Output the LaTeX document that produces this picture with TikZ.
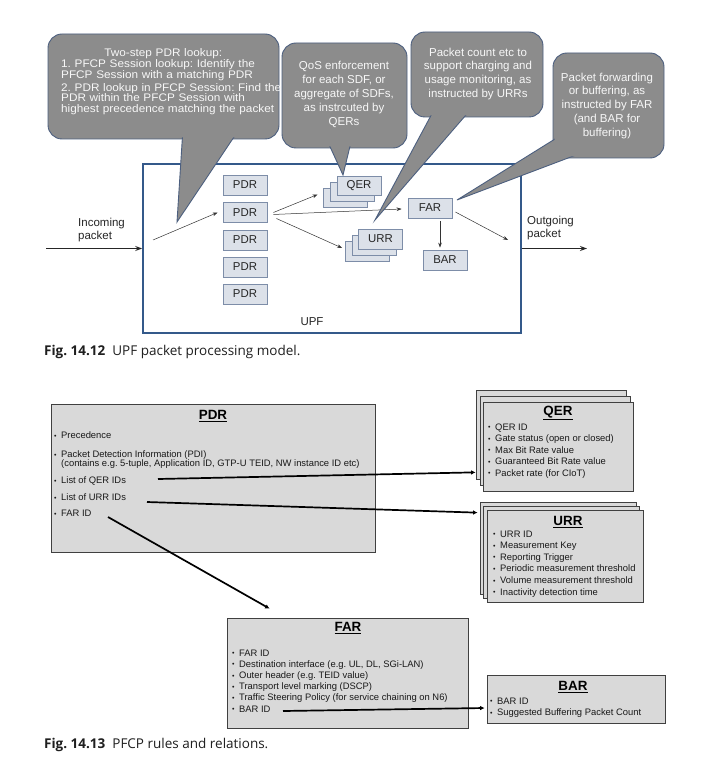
\documentclass[tikz,border=0pt]{standalone}
\usepackage{fontspec}
\setmainfont{Liberation Sans}
\newfontfamily\capfont{Open Sans}
\newfontfamily\callfont[FakeStretch=1.07]{Liberation Sans}
\usetikzlibrary{arrows.meta,calc}
\definecolor{cfill}{HTML}{8C8C8C}
\definecolor{cborder}{HTML}{4C5F7F}
\definecolor{ctext}{HTML}{F7F7F7}
\definecolor{upfcol}{HTML}{34598A}
\definecolor{sfill}{HTML}{DCE1E9}
\definecolor{sborder}{HTML}{7D8DA8}
\definecolor{rfill}{HTML}{D9D9D9}
\definecolor{rborder}{HTML}{404040}
\newcommand\bul{\makebox[7pt][l]{\raisebox{0.4pt}{\fontsize{7}{7}\selectfont •}}}
\newcommand\ind{\hspace*{7pt}}
\newcommand\tightlines{\lineskiplimit=-6pt\relax}
\tikzset{
  callbody/.style={fill=cfill, draw=cborder, line width=0.9pt, rounded corners=14pt},
  calltail/.style={fill=cfill, draw=cborder, line width=0.9pt, line join=miter},
  callcover/.style={fill=cfill, rounded corners=13pt},
  calltext/.style={text=ctext, align=center, inner sep=0pt},
  upfbox/.style={draw=upfcol, line width=1.6pt, minimum width=378pt, minimum height=169pt, inner sep=0pt},
  sbox/.style={draw=sborder, fill=sfill, line width=0.8pt, minimum width=44pt, minimum height=20pt, inner sep=0pt, font=\fontsize{11.4}{12}\selectfont, text=black!85},
  lbl/.style={font=\fontsize{11.5}{13}\selectfont, align=left, inner sep=0pt, text=black!85},
  tarrow/.style={-{Stealth[length=5pt,width=3.6pt]}, line width=0.5pt, draw=black!80},
  iarrow/.style={-{Stealth[length=7pt,width=5pt]}, line width=1.4pt, draw=black!85},
  rbox/.style={draw=rborder, fill=rfill, line width=0.7pt, inner sep=0pt},
  rtitle/.style={font=\fontsize{13.4}{14}\selectfont\bfseries, inner sep=0pt},
  rlist/.style={font=\fontsize{9.4}{11.5}\selectfont, align=left, inner sep=0pt, anchor=north west, text=black!90},
  barrow/.style={-{Latex[length=4.5pt,width=4.5pt]}, line width=1.7pt},
  caption/.style={font=\capfont\fontsize{13.5}{15}\selectfont, inner sep=0pt, anchor=west, text=black!88}
}
\begin{document}
\frenchspacing
\begin{tikzpicture}[x=1pt,y=-1pt]
\useasboundingbox (0,0) rectangle (719,767);
\fill[white] (0,0) rectangle (719,767);

% ---------------- Fig 14.12 ----------------
\node[upfbox] (upf) at (332,248.5) {};
\node[lbl] (upflab) at (312,322) {UPF};

\node[sbox] (pdr1) at (245,185) {PDR};
\node[sbox] (pdr2) at (245,212.5) {PDR};
\node[sbox] (pdr3) at (245,240) {PDR};
\node[sbox] (pdr4) at (245,267) {PDR};
\node[sbox] (pdr5) at (245,294) {PDR};

\node[sbox, minimum height=19pt] (tqer3) at (345,197.5) {};
\node[sbox, minimum height=19pt] (tqer2) at (352,191.5) {};
\node[sbox, minimum height=19pt] (tqer1) at (359,185.5) {QER};

\node[sbox] (turr3) at (367.5,251) {};
\node[sbox] (turr2) at (374,245) {};
\node[sbox] (turr1) at (380.5,239) {URR};

\node[sbox] (far1) at (430,208) {FAR};
\node[sbox] (bar1) at (445,260) {BAR};

\coordinate (inpt) at (153,240);
\coordinate (outpt) at (508,240);
\draw[tarrow] (inpt) -- ($(pdr2.west)+(-5,0)$);
\draw[tarrow] ($(pdr2.east)+(6,0)$) -- ($(tqer3.west)+(-5,-3)$);
\draw[tarrow] ($(pdr2.east)+(6,2)$) -- ($(far1.west)+(-6,1)$);
\draw[tarrow] ($(pdr2.east)+(9,6)$) -- ($(turr3.west)+(-3,-3)$);
\draw[tarrow] ($(far1.south)+(10,3)$) -- ($(bar1.north)+(-5,-2)$);
\draw[tarrow] ($(far1.east)+(3,4)$) -- (outpt);

\coordinate (instart) at (46,248.5);
\coordinate (outend) at (587,248.5);
\draw[iarrow] (instart) -- (upf.west);
\draw[iarrow] (upf.east) -- (outend);
\node[lbl, anchor=north west] (inlbl) at (78,218) {Incoming\\packet};
\node[lbl, anchor=north west] (outlbl) at (527,216) {Outgoing\\packet};

% callout 1
\path[callbody] (48,34) rectangle (279,139);
\path[calltail] (183,128) -- (177,222) -- (240,128) -- cycle;
\path[callcover] (49.5,35.5) rectangle (277.5,137.5);
\node[calltext, align=left, text width=204pt, anchor=north west, font=\callfont\fontsize{11}{10.8}\selectfont\tightlines] (c1) at (61,48.5)
 {\makebox[\linewidth]{Two-step PDR lookup:}\\%
  \mbox{1. PFCP Session lookup: Identify the}\\%
  \mbox{PFCP Session with a matching PDR}\\[2pt]%
  \mbox{2. PDR lookup in PFCP Session: Find the}\\%
  \mbox{PDR within the PFCP Session with}\\%
  \mbox{highest precedence matching the packet}};

% callout 2
\path[callbody] (282,43) rectangle (407,148);
\path[calltail] (326,138) -- (343,175) -- (352,138) -- cycle;
\path[callcover] (283.5,44.5) rectangle (405.5,146.5);
\node[calltext, anchor=north, font=\fontsize{11.5}{14.2}\selectfont] (c2) at (344,60.5)
 {QoS enforcement\\ for each SDF, or\\ aggregate of SDFs,\\ as instrcuted by\\ QERs};

% callout 3
\path[callbody] (411,32) rectangle (543,117);
\path[calltail] (435,108) -- (375,220) -- (472,108) -- cycle;
\path[callcover] (412.5,33.5) rectangle (541.5,115.5);
\node[calltext, anchor=north, font=\fontsize{11.5}{13.7}\selectfont] (c3) at (478,47.5)
 {Packet count etc to\\ support charging and\\ usage monitoring, as\\ instructed by URRs};

% callout 4
\path[callbody] (553,53) rectangle (664,158);
\path[calltail] (563,134) -- (457,200) -- (580,153.5) -- cycle;
\path[callcover] (554.5,54.5) rectangle (662.5,156.5);
\node[calltext, anchor=north, font=\fontsize{11.5}{13.8}\selectfont] (c4) at (607,72.5)
 {Packet forwarding\\ or buffering, as\\ instructed by FAR\\ (and BAR for\\ buffering)};

\node[caption] (cap1) at (44,352) {\textbf{Fig. 14.12}\hspace{7pt}UPF packet processing model.};

% ---------------- Fig 14.13 ----------------
\node[rbox, minimum width=324pt, minimum height=148pt] (pdrR) at (213,478) {};
\node[rtitle] (pdrT) at (213,416) {\underline{PDR}};
\node[rlist] (pdrL) at (54,431.5)
 {\bul Precedence\\[7.5pt]
  \bul Packet Detection Information (PDI)\\[-2.5pt]
  \ind(contains e.g. 5-tuple, Application ID, GTP-U TEID, NW instance ID etc)\\[5.5pt]
  \bul List of QER IDs\\[5.5pt]
  \bul List of URR IDs\\[4.5pt]
  \bul FAR ID};

\node[rbox, minimum width=150pt, minimum height=89pt] (qer3) at (551,434.5) {};
\node[rbox, minimum width=150pt, minimum height=89pt] (qer2) at (555,440.5) {};
\node[rbox, minimum width=150pt, minimum height=89pt] (qer1) at (558,446.5) {};
\node[rtitle] (qerT) at (558,413) {\underline{QER}};
\node[rlist] (qerL) at (488,423.5)
 {\bul QER ID\\ \bul Gate status (open or closed)\\ \bul Max Bit Rate value\\ \bul Guaranteed Bit Rate value\\ \bul Packet rate (for CIoT)};

\node[rbox, minimum width=156pt, minimum height=92pt] (urr3) at (558,548) {};
\node[rbox, minimum width=156pt, minimum height=92pt] (urr2) at (561.5,552) {};
\node[rbox, minimum width=156pt, minimum height=92pt] (urr1) at (565,556) {};
\node[rtitle] (urrT) at (568,522) {\underline{URR}};
\node[rlist, font=\fontsize{9.4}{11.6}\selectfont] (urrL) at (493,530.5)
 {\bul URR ID\\ \bul Measurement Key\\ \bul Reporting Trigger\\ \bul Periodic measurement threshold\\ \bul Volume measurement threshold\\ \bul Inactivity detection time};

\node[rbox, minimum width=241pt, minimum height=110pt] (far2) at (347.5,673) {};
\node[rtitle] (farT) at (348,628) {\underline{FAR}};
\node[rlist, font=\fontsize{9.4}{11.2}\selectfont] (farL) at (232,649.5)
 {\bul FAR ID\\ \bul Destination interface (e.g. UL, DL, SGi-LAN)\\ \bul Outer header (e.g. TEID value)\\ \bul Transport level marking (DSCP)\\ \bul Traffic Steering Policy (for service chaining on N6)\\ \bul BAR ID};

\node[rbox, minimum width=178pt, minimum height=48pt] (bar2) at (576,699) {};
\node[rtitle] (barT) at (573,687) {\underline{BAR}};
\node[rlist] (barL) at (490,697.5)
 {\bul BAR ID\\ \bul Suggested Buffering Packet Count};

\coordinate (qsrc) at (158,479);
\coordinate (usrc) at (147,502);
\coordinate (fsrc) at (108,517);
\coordinate (bsrc) at (283,711);
\draw[barrow] (qsrc) -- ($(qer3.south west)+(0,-7)$);
\draw[barrow] (usrc) -- ($(urr3.north west)+(-2,11)$);
\draw[barrow] (fsrc) -- ($(far2.north west)+(43,-9)$);
\draw[barrow] (bsrc) -- ($(bar2.west)+(-2,9)$);

\node[caption] (cap2) at (44,745) {\textbf{Fig. 14.13}\hspace{7pt}PFCP rules and relations.};
\end{tikzpicture}
\end{document}
